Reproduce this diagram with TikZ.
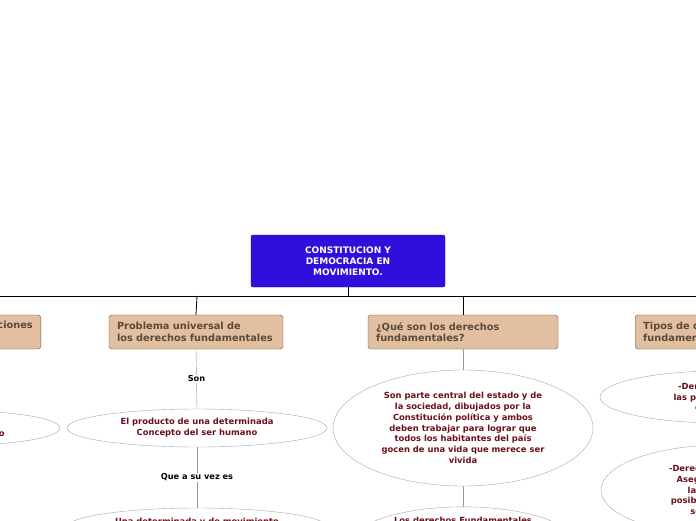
\documentclass[tikz,border=0pt]{standalone}
\usepackage{fontspec}
\setmainfont{DejaVu Sans}
\usetikzlibrary{shapes.geometric}
\definecolor{mainblue}{HTML}{2F0FDB}
\definecolor{topicfill}{HTML}{E2BFA0}
\definecolor{topicline}{HTML}{6A5440}
\definecolor{topictext}{HTML}{5A4A3A}
\definecolor{ideatext}{HTML}{6B0F1A}
\tikzset{
  maintopic/.style={draw=mainblue!70!black, fill=mainblue, rounded corners=2pt,
    text=white, font=\bfseries\fontsize{9}{11}\selectfont, align=center,
    minimum width=194pt, minimum height=52pt},
  topicbox/.style={draw=topicline, fill=topicfill, rounded corners=3pt,
    text=topictext, font=\bfseries\fontsize{9.8}{11.5}\selectfont, align=left,
    minimum height=34pt, inner xsep=8pt},
  ideabox/.style={draw=gray!70, ellipse, text=ideatext,
    font=\bfseries\fontsize{8.4}{10.8}\selectfont, align=center, inner sep=0pt},
  link/.style={draw=gray!80, thin},
  linklabel/.style={fill=white, font=\bfseries\fontsize{8.2}{9}\selectfont, inner sep=1pt}
}
\begin{document}
\begin{tikzpicture}[x=1pt,y=-1pt]
  \useasboundingbox (0,0) rectangle (696,520);
  \clip (0,0) rectangle (696,520);
  \node[maintopic] (main) at (348,261) {CONSTITUCION Y\\DEMOCRACIA EN\\MOVIMIENTO.};
  % topics
  \node[topicbox, anchor=east] (rel) at (41,332) {Democracia y sus relaciones\\con la norma jurídica};
  \node[topicbox, text width=158pt] (prob) at (196,332) {Problema universal de\\los derechos fundamentales};
  \node[topicbox, text width=174pt] (que) at (463,332) {¿Qué son los derechos\\fundamentales?};
  \node[topicbox, text width=174pt, anchor=west] (tipos) at (635,332) {Tipos de derechos\\fundamentales};
  % trunk
  \coordinate (bus) at (348,296);
  \draw[thick] (main.south) -- (bus);
  \draw[thick] (-20,296) -- (720,296);
  \draw[thick] (197,296) -- (prob.north);
  \draw[thick] (463,296) -- (que.north);
  % ideas
  \node[ideabox, minimum width=260pt, minimum height=38pt] (prod) at (197,428) {El producto de una determinada\\Concepto del ser humano};
  \node[ideabox, minimum width=260pt, minimum height=38pt] (mov) at (197,527) {Una determinada y de movimiento\\histórico};
  \node[ideabox, minimum width=200pt, minimum height=34pt] (left) at (-40,428) {Un modelo de\\constitucionalismo};
  \node[ideabox, minimum width=260pt, minimum height=116pt] (parte) at (463,428) {Son parte central del estado y de\\la sociedad, dibujados por la\\Constitución política y ambos\\deben trabajar para lograr que\\todos los habitantes del país\\gocen de una vida que merece ser\\vivida};
  \node[ideabox, minimum width=220pt, minimum height=68pt] (los) at (463,542) {Los derechos Fundamentales\\son inherentes a la\\persona y la protegen\\frente al poder\\del estado};
  \node[ideabox, minimum width=240pt, minimum height=52pt] (civ) at (720,397) {-Derechos civiles:\\las personas toman\\decisiones};
  \node[ideabox, minimum width=242pt, minimum height=90pt] (lib) at (722,490) {-Derechos de libertad:\\Asegura la libertad\\la libertad y la\\posibilidad de decidir\\sobre su vida};
  % links
  \draw[link] (prob.south) -- node[linklabel] {Son} (prod.north);
  \draw[link] (prod.south) -- node[linklabel] {Que a su vez es} (mov.north);
  \draw[link] (que.south) -- (parte.north);
  \draw[link] (parte.south) -- (los.north);
\end{tikzpicture}
\end{document}
